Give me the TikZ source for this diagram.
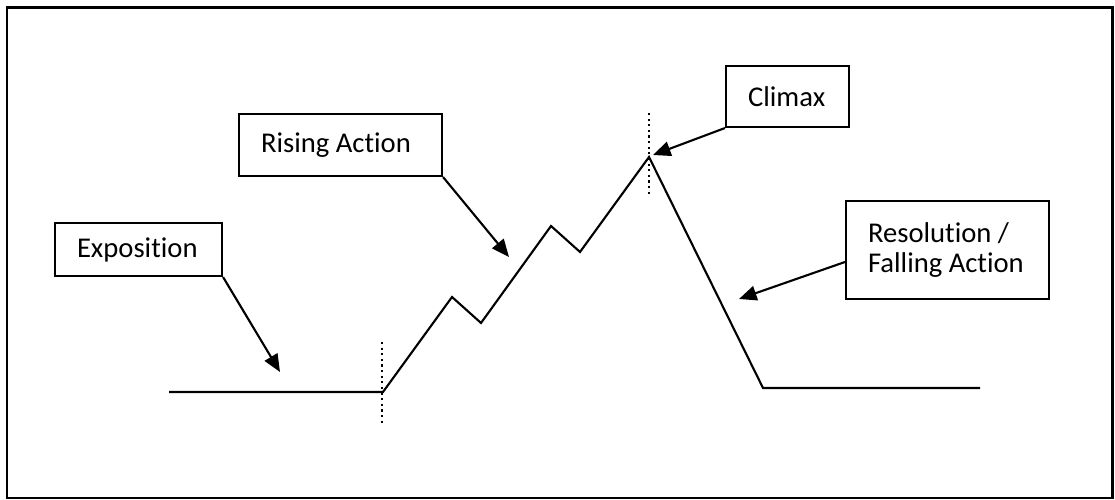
\documentclass[tikz,border=0pt]{standalone}
\usepackage{fontspec}
\setmainfont{Carlito}[Ligatures=NoCommon]
\usetikzlibrary{arrows.meta}
\tikzset{
  stagebox/.style={draw, line width=0.6pt, inner xsep=0.22cm, inner ysep=0pt, align=flush left, font=\fontsize{8.15}{8.6}\selectfont},
  pointer/.style={line width=0.6pt, -{Triangle[length=5pt,width=4.2pt]}},
  arcline/.style={line width=0.6pt, line join=miter},
  marker/.style={line width=0.6pt, densely dotted},
}

\begin{document}
\begin{tikzpicture}
  \useasboundingbox (0,0) rectangle (11.15,5);
  \draw[line width=0.85pt] (0.07,0.02) rectangle (11.12,4.92);

  % the story arc
  \coordinate (start) at (1.69,1.08);
  \coordinate (rise) at (3.83,1.08);
  \coordinate (peakA) at (4.52,2.03);
  \coordinate (dipA) at (4.81,1.77);
  \coordinate (peakB) at (5.51,2.74);
  \coordinate (dipB) at (5.80,2.48);
  \coordinate (top) at (6.49,3.43);
  \coordinate (fall) at (7.63,1.12);
  \coordinate (finish) at (9.80,1.12);
  \draw[arcline] (start) -- (rise) -- (peakA) -- (dipA) -- (peakB) -- (dipB) -- (top) -- (fall) -- (finish);
  \draw[marker] (3.82,1.58) -- (3.82,0.75);
  \draw[marker] (6.49,3.87) -- (6.49,3.03);

  % labels
  \node[stagebox, text width=1.23cm, minimum height=0.53cm] (expo) at (1.385,2.505) {Exposition};
  \node[stagebox, text width=1.59cm, minimum height=0.62cm] (rising) at (3.405,3.55) {Rising Action};
  \node[stagebox, text width=0.79cm, minimum height=0.61cm] (climax) at (7.875,4.035) {Climax};
  \node[stagebox, text width=1.59cm, minimum height=0.98cm] (resol) at (9.475,2.50) {Resolution /\\Falling Action};

  % pointers
  \coordinate (expoTip) at (2.80,1.28);
  \coordinate (risingTip) at (5.09,2.43);
  \coordinate (climaxTip) at (6.53,3.45);
  \coordinate (resolTip) at (7.39,2.01);
  \draw[pointer] (expo.south east) -- (expoTip);
  \draw[pointer] (rising.south east) -- (risingTip);
  \draw[pointer] (climax.south west) -- (climaxTip);
  \draw[pointer] (resol.west |- 0,2.38) -- (resolTip);
\end{tikzpicture}
\end{document}
